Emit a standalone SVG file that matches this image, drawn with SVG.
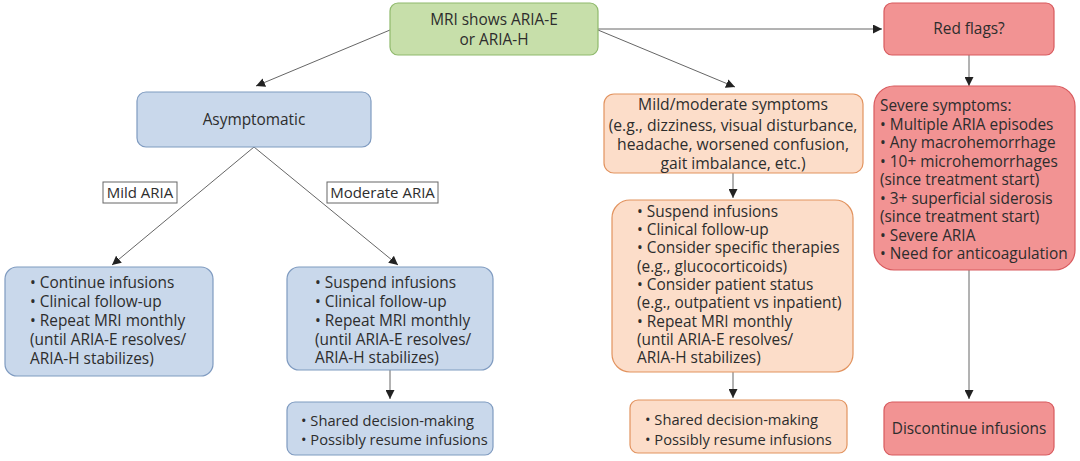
<svg xmlns="http://www.w3.org/2000/svg" width="1080" height="461" viewBox="0 0 1080 461">
<defs>
<marker id="ah" viewBox="0 0 10 10" refX="10" refY="5" markerWidth="9" markerHeight="9" markerUnits="userSpaceOnUse" orient="auto">
<path d="M0,0 L10,5 L0,10 z" fill="#222"/>
</marker>
<style>
text{font-family:"Open Sans","Noto Sans","DejaVu Sans",sans-serif;font-size:15.4px;fill:#2d2d2d}
.c{text-anchor:middle}
.sm{font-size:15px}
.lg{font-size:15.7px}
.xs{font-size:14.7px}
.green{fill:#c7dfaa;stroke:#8fb96c;stroke-width:1.2}
.blue{fill:#c9d8eb;stroke:#7f9bc0;stroke-width:1.2}
.peach{fill:#fcddc9;stroke:#e2935f;stroke-width:1.2}
.red{fill:#f29393;stroke:#d85a5e;stroke-width:1.2}
.lbl{fill:#fff;stroke:#666;stroke-width:1}
.conn line{stroke:#666;stroke-width:1;marker-end:url(#ah)}
</style>
</defs>
<rect width="1080" height="461" fill="#fff"/>
<g class="conn" id="connectors">
<line x1="390" y1="30" x2="256" y2="86"/>
<line x1="598" y1="30" x2="735" y2="87"/>
<line x1="598" y1="29" x2="882" y2="29"/>
<line x1="969" y1="55" x2="969" y2="86"/>
<line x1="254" y1="147" x2="112" y2="265"/>
<line x1="254" y1="147" x2="398" y2="265"/>
<line x1="390" y1="370" x2="390" y2="399"/>
<line x1="733" y1="173" x2="733" y2="198"/>
<line x1="733" y1="372" x2="733" y2="398"/>
<line x1="969" y1="270" x2="969" y2="399"/>
</g>
<g id="mri">
<rect class="green" x="390" y="3" width="208" height="52" rx="8"/>
<text class="c" x="494" y="25">MRI shows ARIA-E</text>
<text class="c" x="494" y="45">or ARIA-H</text>
</g>
<g id="redflags">
<rect class="red" x="884" y="3" width="170" height="52" rx="8"/>
<text class="c" x="969" y="34">Red flags?</text>
</g>
<g id="asym">
<rect class="blue" x="137" y="92" width="234" height="55" rx="9"/>
<text class="c" x="254" y="125">Asymptomatic</text>
</g>
<g id="mildlbl">
<rect class="lbl" x="103" y="182" width="74" height="21"/>
<text class="c sm" x="140" y="198">Mild ARIA</text>
</g>
<g id="modlbl">
<rect class="lbl" x="327" y="182" width="111" height="21"/>
<text class="c sm" x="382.5" y="198">Moderate ARIA</text>
</g>
<g id="mildbox">
<rect class="blue" x="5" y="267" width="208" height="109" rx="12"/>
<text x="30" y="288">• Continue infusions</text>
<text x="30" y="307">• Clinical follow-up</text>
<text x="30" y="326">• Repeat MRI monthly</text>
<text x="30" y="345">(until ARIA-E resolves/</text>
<text x="30" y="364">ARIA-H stabilizes)</text>
</g>
<g id="modbox">
<rect class="blue" x="287" y="267" width="206" height="103" rx="12"/>
<text x="315" y="288">• Suspend infusions</text>
<text x="315" y="307">• Clinical follow-up</text>
<text x="315" y="326">• Repeat MRI monthly</text>
<text x="315" y="345">(until ARIA-E resolves/</text>
<text x="315" y="363">ARIA-H stabilizes)</text>
</g>
<g id="modshared">
<rect class="blue" x="287" y="402" width="206" height="53" rx="8"/>
<text class="xs" x="301" y="426">• Shared decision-making</text>
<text class="xs" x="301" y="445">• Possibly resume infusions</text>
</g>
<g id="symp">
<rect class="peach" x="604" y="94" width="259" height="79" rx="10"/>
<text class="c lg" x="733" y="110">Mild/moderate symptoms</text>
<text class="c lg" x="733" y="131">(e.g., dizziness, visual disturbance,</text>
<text class="c lg" x="733" y="150">headache, worsened confusion,</text>
<text class="c lg" x="733" y="169">gait imbalance, etc.)</text>
</g>
<g id="sympmgmt">
<rect class="peach" x="612" y="200" width="241" height="172" rx="18"/>
<text x="637" y="217">• Suspend infusions</text>
<text x="637" y="235">• Clinical follow-up</text>
<text x="637" y="253">• Consider specific therapies</text>
<text x="637" y="272">(e.g., glucocorticoids)</text>
<text x="637" y="290">• Consider patient status</text>
<text x="637" y="308">(e.g., outpatient vs inpatient)</text>
<text x="637" y="327">• Repeat MRI monthly</text>
<text x="637" y="345">(until ARIA-E resolves/</text>
<text x="637" y="363">ARIA-H stabilizes)</text>
</g>
<g id="sympshared">
<rect class="peach" x="630" y="400" width="217" height="53" rx="8"/>
<text class="xs" x="645" y="425">• Shared decision-making</text>
<text class="xs" x="645" y="445">• Possibly resume infusions</text>
</g>
<g id="severe">
<rect class="red" x="874" y="86" width="201" height="184" rx="20"/>
<text x="880" y="111">Severe symptoms:</text>
<text x="880" y="130">• Multiple ARIA episodes</text>
<text x="880" y="148">• Any macrohemorrhage</text>
<text x="880" y="167">• 10+ microhemorrhages</text>
<text x="880" y="185">(since treatment start)</text>
<text x="880" y="204">• 3+ superficial siderosis</text>
<text x="880" y="222">(since treatment start)</text>
<text x="880" y="241">• Severe ARIA</text>
<text x="880" y="259">• Need for anticoagulation</text>
</g>
<g id="discontinue">
<rect class="red" x="884" y="402" width="170" height="53" rx="8"/>
<text class="c" x="969" y="434">Discontinue infusions</text>
</g>
</svg>
